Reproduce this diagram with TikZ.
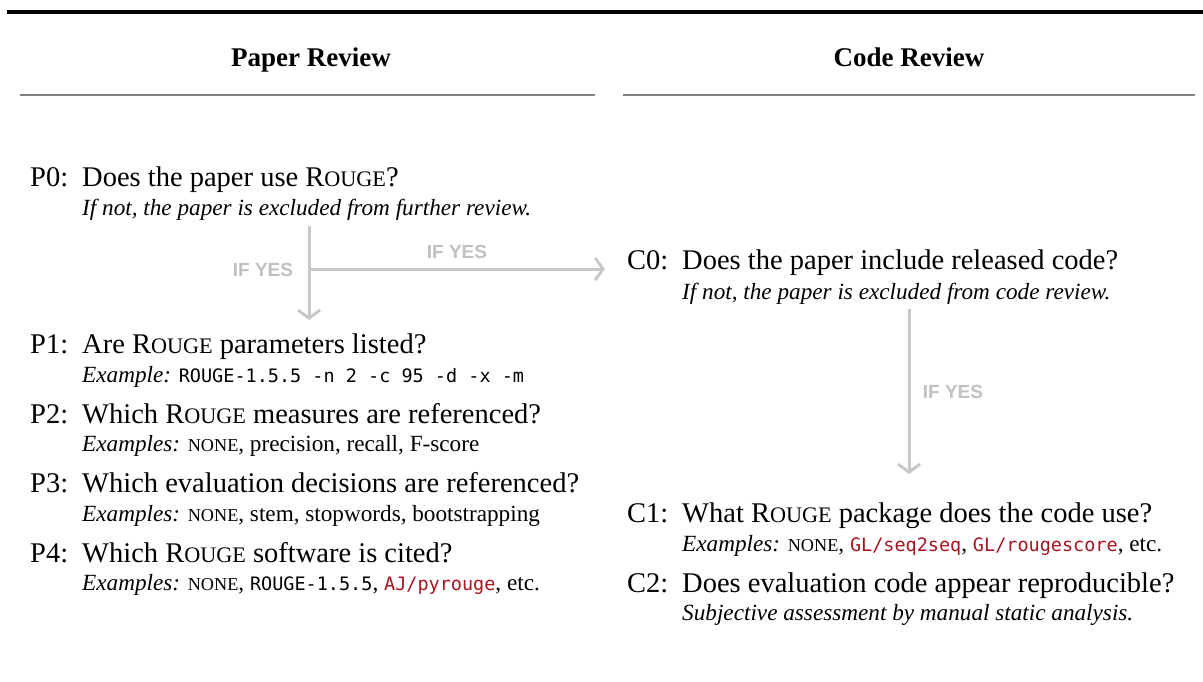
\documentclass[tikz,border=0pt]{standalone}
\usepackage{fontspec}
\setmainfont{Liberation Serif}
\setmonofont{DejaVu Sans Mono}
\newfontfamily\labelfont{Liberation Sans}
\usetikzlibrary{arrows.meta}

\definecolor{codered}{RGB}{168,20,32}
\definecolor{flowgray}{RGB}{200,200,200}
\definecolor{yesgray}{RGB}{192,192,192}
\definecolor{rulegray}{RGB}{130,130,130}

\newcommand\qfont{\fontsize{28.5}{32}\selectfont}
\newcommand\nfont{\fontsize{23.2}{27}\selectfont}
\newcommand\rg{R{\fontsize{22.2}{24}\selectfont OUGE}}
\newcommand\none{{\fontsize{18.2}{20}\selectfont NONE}}
\newcommand\cd[1]{{\ttfamily\fontsize{18.5}{20}\selectfont #1}}
\newcommand\rcd[1]{{\color{codered}\cd{#1}}}

\tikzset{
  header/.style={font=\bfseries\fontsize{27}{30}\selectfont, anchor=base},
  qlabel/.style={font=\qfont, anchor=base west, inner sep=0pt},
  qtext/.style={font=\qfont, anchor=base west, inner sep=0pt},
  note/.style={font=\nfont, anchor=base west, inner sep=0pt},
  flow/.style={draw=flowgray, line width=3pt, -{Straight Barb[length=8pt,width=22pt,line width=3pt]}},
  yes/.style={font=\labelfont\bfseries\fontsize{19}{22}\selectfont, text=yesgray, inner sep=0pt},
}

\begin{document}
\begin{tikzpicture}[x=1pt, y=-1pt]
  \useasboundingbox (0,0) rectangle (1203,681);

  % top rule and column heads
  \draw[line width=4pt] (7,12) -- (1203,12);
  \node[header] (hpaper) at (311,66) {Paper Review};
  \node[header] (hcode)  at (909,66) {Code Review};
  \draw[rulegray, line width=1.5pt] (20,95) -- (595,95);
  \draw[rulegray, line width=1.5pt] (623,95) -- (1195,95);

  % paper review questions
  \node[qlabel] (p0l) at (30,186) {P0:};
  \node[qtext]  (p0)  at (82,186) {Does the paper use \rg?};
  \node[note]   (p0n) at (82,215) {\itshape If not, the paper is excluded from further review.};

  \node[qlabel] (p1l) at (30,353) {P1:};
  \node[qtext]  (p1)  at (82,353) {Are \rg{} parameters listed?};
  \node[note]   (p1n) at (82,382) {\itshape Example:\upshape{} \cd{ROUGE-1.5.5 -n 2 -c 95 -d -x -m}};

  \node[qlabel] (p2l) at (30,423) {P2:};
  \node[qtext]  (p2)  at (82,423) {Which \rg{} measures are referenced?};
  \node[note]   (p2n) at (82,451) {\itshape Examples:\upshape{} \none, precision, recall, F-score};

  \node[qlabel] (p3l) at (30,492) {P3:};
  \node[qtext]  (p3)  at (82,492) {Which evaluation decisions are referenced?};
  \node[note]   (p3n) at (82,521) {\itshape Examples:\upshape{} \none, stem, stopwords, bootstrapping};

  \node[qlabel] (p4l) at (30,562) {P4:};
  \node[qtext]  (p4)  at (82,562) {Which \rg{} software is cited?};
  \node[note]   (p4n) at (82,590) {\itshape Examples:\upshape{} \none, \cd{ROUGE-1.5.5}, \rcd{AJ/pyrouge}, etc.};

  % code review questions
  \node[qlabel] (c0l) at (627,269) {C0:};
  \node[qtext]  (c0)  at (682,269) {Does the paper include released code?};
  \node[note]   (c0n) at (682,299) {\itshape If not, the paper is excluded from code review.};

  \node[qlabel] (c1l) at (627,522) {C1:};
  \node[qtext]  (c1)  at (682,522) {What \rg{} package does the code use?};
  \node[note]   (c1n) at (682,551) {\itshape Examples:\upshape{} \none, \rcd{GL/seq2seq}, \rcd{GL/rougescore}, etc.};

  \node[qlabel] (c2l) at (627,592) {C2:};
  \node[qtext]  (c2)  at (682,592) {Does evaluation code appear reproducible?};
  \node[note]   (c2n) at (682,620) {\itshape Subjective assessment by manual static analysis.};

  % flow arrows
  \coordinate (ptop)   at (309,226);
  \coordinate (pfork)  at (309,269);
  \coordinate (pend)   at (309,320);
  \coordinate (cstart) at (605,269);
  \coordinate (ctop)   at (909,309);
  \coordinate (cend)   at (909,474);

  \draw[flow] (ptop) -- (pend);
  \draw[flow] (pfork) -- (cstart);
  \draw[flow] (ctop) -- (cend);

  \node[yes] (yes1) at (263,270) {IF YES};
  \node[yes] (yes2) at (457,252) {IF YES};
  \node[yes] (yes3) at (953,392) {IF YES};
\end{tikzpicture}
\end{document}
